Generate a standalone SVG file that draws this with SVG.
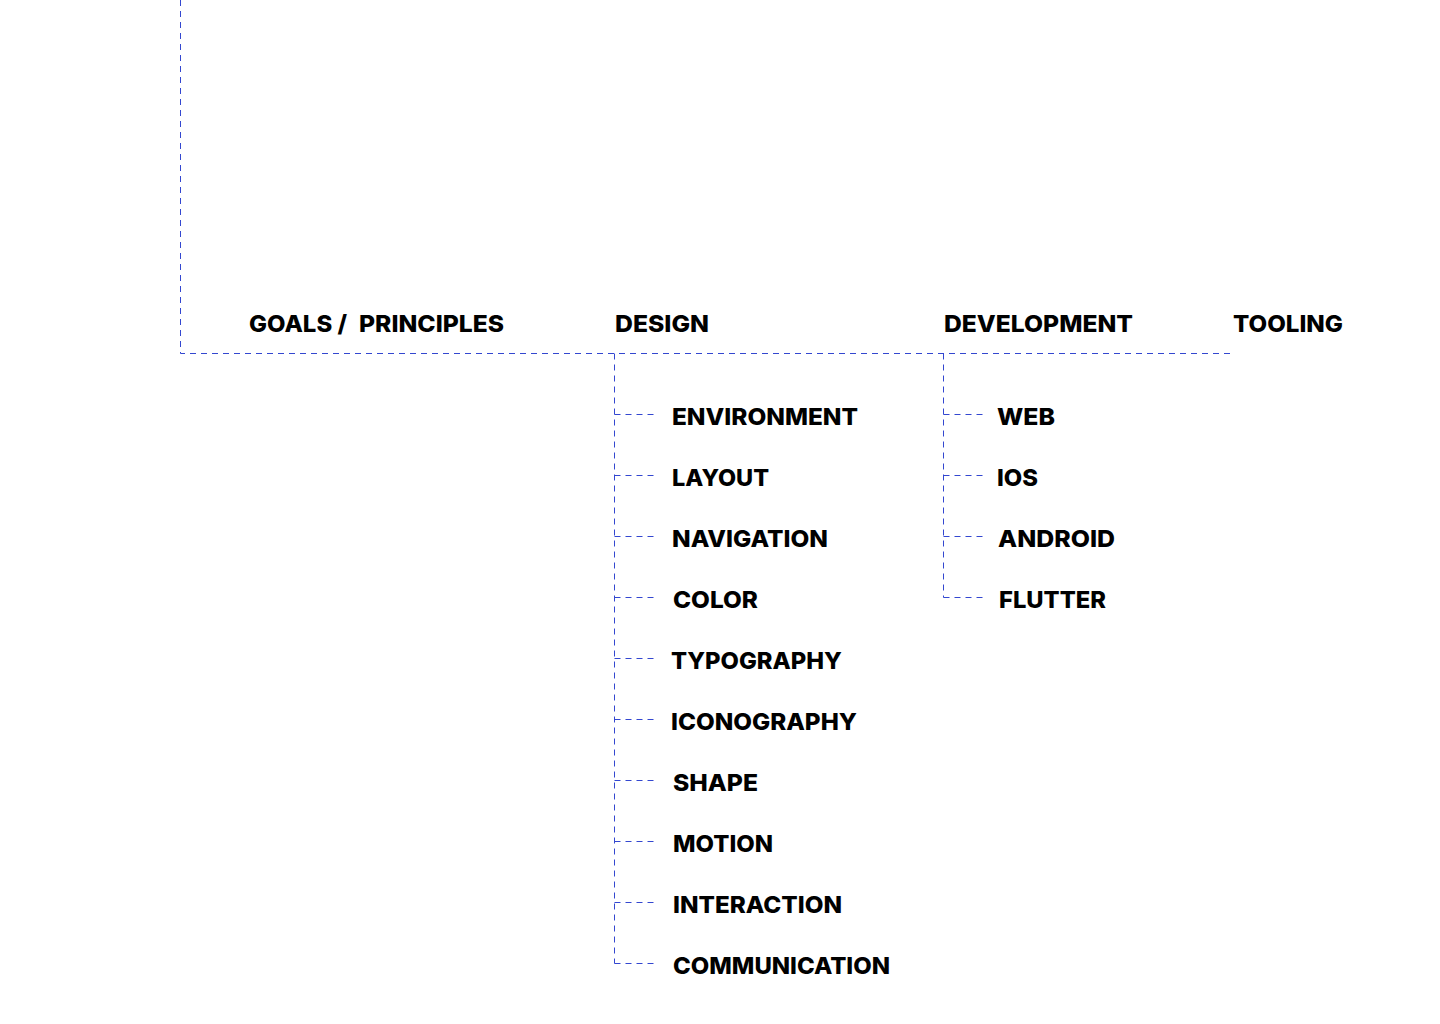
<svg xmlns="http://www.w3.org/2000/svg" width="1440" height="1024" viewBox="0 0 1440 1024">
<style>
.c{fill:none;stroke:#3347d0;stroke-width:1;stroke-dasharray:6 5}
.t{font-family:Inter,"DejaVu Sans",sans-serif;font-weight:800;font-size:23.5px;fill:#000}
</style>
<rect width="1440" height="1024" fill="#fff"/>
<g id="connectors">
<path class="c" d="M180.5 0V353.5H1233"/>
<path class="c" d="M614.5 353.5V963.5"/>
<path class="c" d="M943.5 353.5V597.5"/>
<path class="c" d="M614.5 414.5H656M614.5 475.5H656M614.5 536.5H656M614.5 597.5H656M614.5 658.5H656M614.5 719.5H656M614.5 780.5H656M614.5 841.5H656M614.5 902.5H656M614.5 963.5H656"/>
<path class="c" d="M943.5 414.5H985M943.5 475.5H985M943.5 536.5H985M943.5 597.5H985"/>
</g>
<g id="goals"><text class="t" y="332"><tspan x="249" textLength="98" lengthAdjust="spacingAndGlyphs">GOALS /</tspan> <tspan x="359" textLength="145" lengthAdjust="spacingAndGlyphs">PRINCIPLES</tspan></text></g>
<g id="design"><text class="t" x="615" y="332" textLength="94" lengthAdjust="spacingAndGlyphs">DESIGN</text></g>
<g id="development"><text class="t" x="944" y="332" textLength="189" lengthAdjust="spacingAndGlyphs">DEVELOPMENT</text></g>
<g id="tooling"><text class="t" x="1233" y="332" textLength="110" lengthAdjust="spacingAndGlyphs">TOOLING</text></g>
<g id="environment"><text class="t" x="672" y="425" textLength="186" lengthAdjust="spacingAndGlyphs">ENVIRONMENT</text></g>
<g id="layout"><text class="t" x="672" y="486" textLength="97" lengthAdjust="spacingAndGlyphs">LAYOUT</text></g>
<g id="navigation"><text class="t" x="672" y="547" textLength="156" lengthAdjust="spacingAndGlyphs">NAVIGATION</text></g>
<g id="color"><text class="t" x="673" y="608" textLength="85" lengthAdjust="spacingAndGlyphs">COLOR</text></g>
<g id="typography"><text class="t" x="671" y="669" textLength="171" lengthAdjust="spacingAndGlyphs">TYPOGRAPHY</text></g>
<g id="iconography"><text class="t" x="671" y="730" textLength="186" lengthAdjust="spacingAndGlyphs">ICONOGRAPHY</text></g>
<g id="shape"><text class="t" x="673" y="791" textLength="85" lengthAdjust="spacingAndGlyphs">SHAPE</text></g>
<g id="motion"><text class="t" x="673" y="852" textLength="100" lengthAdjust="spacingAndGlyphs">MOTION</text></g>
<g id="interaction"><text class="t" x="673" y="913" textLength="169" lengthAdjust="spacingAndGlyphs">INTERACTION</text></g>
<g id="communication"><text class="t" x="673" y="974" textLength="217" lengthAdjust="spacingAndGlyphs">COMMUNICATION</text></g>
<g id="web"><text class="t" x="997" y="425" textLength="58" lengthAdjust="spacingAndGlyphs">WEB</text></g>
<g id="ios"><text class="t" x="997" y="486" textLength="41" lengthAdjust="spacingAndGlyphs">IOS</text></g>
<g id="android"><text class="t" x="998" y="547" textLength="117" lengthAdjust="spacingAndGlyphs">ANDROID</text></g>
<g id="flutter"><text class="t" x="999" y="608" textLength="107" lengthAdjust="spacingAndGlyphs">FLUTTER</text></g>
</svg>
